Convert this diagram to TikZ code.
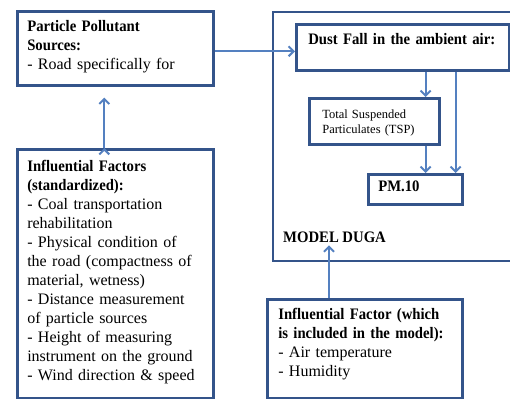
\documentclass[tikz,border=0pt]{standalone}
\usepackage{fontspec}
\setmainfont{Liberation Serif}[BoldFeatures={FakeStretch=0.92}]
\usepackage{tikz}
\usetikzlibrary{arrows.meta}

\definecolor{boxline}{RGB}{52,84,138}
\definecolor{arrline}{RGB}{84,128,192}

\begin{document}
\begin{tikzpicture}[x=1pt, y=-1pt,
  box/.style={draw=boxline, line width=2.6pt, fill=white, anchor=north west, align=left,
    inner ysep=0pt, inner xsep=10pt, font=\fontsize{16}{19}\selectfont},
  arr/.style={draw=arrline, line width=2pt, -{Straight Barb[length=5pt,width=10pt]}}]
  \useasboundingbox (0,0) rectangle (510,398);
  \clip (0,0) rectangle (510,398);

  \node[draw=boxline, line width=2.2pt, anchor=north west, minimum width=270pt, minimum height=249pt, inner sep=0pt] (model) at (272,11) {};
  \node[box, text width=176pt, text height=20pt, text depth=54pt] (src) at (16,10)
    {\textbf{Particle Pollutant}\\ \textbf{Sources:}\\ - Road specifically for};
  \node[box, text width=176pt, text height=22pt, text depth=227pt] (fac) at (16,148)
    {\textbf{Influential Factors}\\ \textbf{(standardized):}\\ - Coal transportation\\ rehabilitation\\
     - Physical condition of\\ the road (compactness of\\ material, wetness)\\
     - Distance measurement\\ of particle sources\\ - Height of measuring\\
     instrument on the ground\\ - Wind direction \& speed};
  \node[box, inner xsep=12pt, text width=189pt, text height=20pt, text depth=26pt] (dust) at (295,23)
    {\textbf{Dust Fall in the ambient air:}};
  \node[box, inner xsep=13pt, text width=104pt, text height=20pt, text depth=26pt,
    font=\fontsize{12.5}{15}\selectfont] (tsp) at (308,97)
    {Total Suspended\\ Particulates (TSP)};
  \node[box, text width=74pt, text height=17pt, text depth=13pt] (pm) at (367,173)
    {\textbf{PM.10}};
  \node[anchor=base west, inner sep=3pt, font=\fontsize{16}{19}\selectfont\bfseries] (duga) at (280,242)
    {MODEL DUGA};
  \node[box, inner xsep=11pt, text width=173pt, text height=20pt, text depth=79pt] (inc) at (266,298)
    {\textbf{Influential Factor (which}\\ \textbf{is included in the model):}\\ - Air temperature\\ - Humidity};

  \coordinate (t1) at ([xshift=-15pt]tsp.north east);
  \coordinate (t2) at ([xshift=-8pt]pm.north east);
  \coordinate (t3) at ([xshift=63pt]inc.north west);
  \coordinate (t4) at ([xshift=-11pt]fac.north);
  \coordinate (t5) at ([yshift=-3pt]src.east);
  \coordinate (t6) at ([yshift=-11pt]src.south);

  \path[arr]
  (t5) edge (t5 -| dust.west)
  (t1 |- dust.south) edge (t1)
  (t1 |- tsp.south) edge (t1 |- pm.north)
  (t2 |- dust.south) edge (t2)
  (t3) edge (t3 |- duga.south)
  (t4) edge (t4 |- t6)
;
\end{tikzpicture}
\end{document}
